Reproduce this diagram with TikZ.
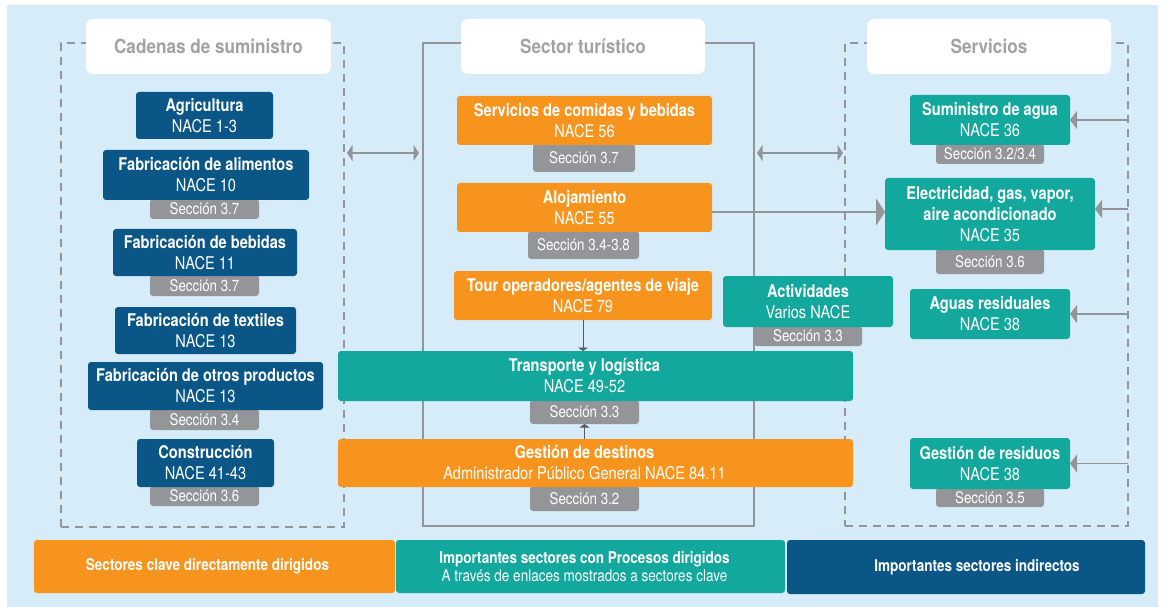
\documentclass[tikz,border=0pt]{standalone}
\usepackage{fontspec}
\setmainfont{TeX Gyre Heros}[FakeStretch=0.835]
\newfontfamily\ttlfamily{TeX Gyre Heros}[FakeStretch=0.88]
\usetikzlibrary{arrows.meta}
\definecolor{bgblue}{RGB}{214,236,249}
\definecolor{dblue}{RGB}{9,86,135}
\definecolor{korange}{RGB}{247,148,30}
\definecolor{kteal}{RGB}{19,168,158}
\definecolor{secgray}{RGB}{147,149,152}
\definecolor{lngray}{RGB}{147,149,152}
\definecolor{ttlgray}{RGB}{160,162,165}
\definecolor{arrdark}{RGB}{88,89,91}
\newcommand\myNodeFont{\fontsize{17.5}{21}\selectfont}
\newcommand\mySecFont{\fontsize{16}{18}\selectfont}
\newcommand\myLegFont{\fontsize{16.2}{18}\selectfont}
\newcommand\myTtlFont{\ttlfamily\bfseries\fontsize{19.5}{22}\selectfont}
\newcommand\placebox[7]{\node[#1, minimum width=#5pt, minimum height=#6pt] (#2) at (#3,#4) {#7};}
\tikzset{
 basebox/.style={inner sep=0pt, outer sep=0pt, align=center, text=white, anchor=north west, rounded corners=3pt},
 dbox/.style={basebox, fill=dblue, font=\myNodeFont},
 obox/.style={basebox, fill=korange, font=\myNodeFont},
 tbox/.style={basebox, fill=kteal, font=\myNodeFont},
 secbox/.style={basebox, fill=secgray, font=\mySecFont},
 legbox/.style={basebox, font=\myLegFont},
 ttlbox/.style={basebox, fill=white, rounded corners=7pt, text=ttlgray, font=\myTtlFont},
 dashcont/.style={basebox, draw=lngray, line width=1.6pt, dash pattern=on 8pt off 6pt, rounded corners=0pt},
 solidcont/.style={basebox, draw=lngray, line width=1.8pt, rounded corners=0pt},
 lbl/.style={align=center, text=white, inner sep=0pt},
 dblarr/.style={lngray, line width=1.6pt, {Triangle[length=5.5pt,width=16pt]}-{Triangle[length=5.5pt,width=16pt]}},
 bigarr/.style={lngray, line width=1.8pt, -{Triangle[length=9pt,width=27pt]}},
 inarr/.style={lngray, line width=1.6pt, -{Triangle[length=7pt,width=18pt]}},
 smallarr/.style={arrdark, line width=0.9pt, -{Triangle[length=3.5pt,width=10pt]}},
}
\begin{document}
\begin{tikzpicture}[x=1pt,y=-1pt]
\useasboundingbox (0,0) rectangle (1163,607);
\fill[white] (0,0) rectangle (1163,607);
\fill[bgblue] (7,5) rectangle (1158,607);

% containers
\placebox{dashcont}{supply}{61}{43}{283}{484}{}
\placebox{solidcont}{tourism}{423}{43}{331}{483}{}
\placebox{dashcont}{services}{845}{43}{283}{483}{}
\coordinate (row) at (0,153);

% connectors
\draw[dblarr, shorten <=3pt, shorten >=4pt] (supply.east |- row) -- (tourism.west |- row);
\draw[dblarr, shorten <=3pt, shorten >=2pt] (tourism.east |- row) -- (services.west |- row);

% supply chain column
\placebox{secbox}{secfalim}{150}{199}{109}{20}{Sección 3.7}
\placebox{secbox}{secfbeb}{150}{275}{109}{21}{Sección 3.7}
\placebox{secbox}{secfotros}{150}{409}{109}{21}{Sección 3.4}
\placebox{secbox}{secconstr}{150}{486}{109}{20}{Sección 3.6}
\placebox{dbox}{agri}{136}{92}{137}{47}{\textbf{Agricultura}\\NACE 1-3}
\placebox{dbox}{falim}{103}{150}{206}{50}{\textbf{Fabricación de alimentos}\\NACE 10}
\placebox{dbox}{fbeb}{113}{229}{184}{47}{\textbf{Fabricación de bebidas}\\NACE 11}
\placebox{dbox}{ftext}{115}{307}{181}{47}{\textbf{Fabricación de textiles}\\NACE 13}
\placebox{dbox}{fotros}{88}{362}{235}{48}{\textbf{Fabricación de otros productos}\\NACE 13}
\placebox{dbox}{constr}{137}{439}{137}{48}{\textbf{Construcción}\\NACE 41-43}

% tourism column
\placebox{secbox}{secserv}{533}{144}{102}{28}{Sección 3.7}
\placebox{secbox}{secaloj}{528}{231}{111}{28}{Sección 3.4-3.8}
\placebox{secbox}{sectransp}{530}{400}{109}{24}{Sección 3.3}
\placebox{secbox}{secgest}{530}{486}{109}{25}{Sección 3.2}
\placebox{secbox}{secactiv}{754}{326}{108}{20}{Sección 3.3}
\placebox{obox}{serv}{457}{96}{255}{49}{\textbf{Servicios de comidas y bebidas}\\NACE 56}
\placebox{obox}{aloj}{457}{183}{255}{49}{\textbf{Alojamiento}\\NACE 55}
\placebox{obox}{tour}{454}{271}{258}{49}{\textbf{Tour operadores/agentes de viaje}\\NACE 79}
\node[tbox, minimum width=515pt, minimum height=50pt,
  label={[lbl, font=\myNodeFont, xshift=-11pt]center:{\textbf{Transporte y logística}\\NACE 49-52}}] (transp) at (338,351) {};
\node[obox, minimum width=515pt, minimum height=48pt,
  label={[lbl, font=\myNodeFont, xshift=-11pt]center:{\textbf{Gestión de destinos}\\Administrador Público General NACE 84.11}}] (gest) at (338,439) {};
\placebox{tbox}{activ}{723}{276}{170}{51}{\textbf{Actividades}\\Varios NACE}

% services column
\placebox{secbox}{secagua}{936}{144}{108}{20}{Sección 3.2/3.4}
\placebox{secbox}{secelec}{936}{249}{108}{25}{Sección 3.6}
\placebox{secbox}{secresid}{936}{488}{108}{19}{Sección 3.5}
\placebox{tbox}{agua}{910}{95}{160}{50}{\textbf{Suministro de agua}\\NACE 36}
\placebox{tbox}{elec}{885}{178}{210}{72}{\textbf{Electricidad, gas, vapor,}\\\textbf{aire acondicionado}\\NACE 35}
\placebox{tbox}{aguasres}{910}{289}{160}{50}{\textbf{Aguas residuales}\\NACE 38}
\placebox{tbox}{resid}{910}{438}{160}{51}{\textbf{Gestión de residuos}\\NACE 38}

% arrows between nodes
\coordinate (alojout) at ([yshift=-4.5pt]aloj.east);
\coordinate (elecin) at ([yshift=5pt]elec.east);
\draw[bigarr] (alojout) -- (alojout -| elec.west);
\draw[inarr] (services.east |- agua.east) -- (agua.east);
\draw[inarr] (services.east |- elecin) -- (elecin);
\draw[inarr] (services.east |- aguasres.east) -- (aguasres.east);
\draw[inarr] (services.east |- resid.east) -- (resid.east);
\draw[smallarr] (tour.south) -- (tour.south |- transp.north);
\draw[smallarr] (sectransp.south |- gest.north) -- (sectransp.south);

% titles
\placebox{ttlbox}{ttlsupply}{86}{19}{245}{55}{Cadenas de suministro}
\placebox{ttlbox}{ttltourism}{461}{19}{244}{55}{Sector turístico}
\placebox{ttlbox}{ttlservices}{867}{19}{244}{55}{Servicios}

% legend
\node[legbox, fill=korange, minimum width=361pt, minimum height=53pt,
  label={[lbl, font=\myLegFont, xshift=-7pt]center:{\textbf{Sectores clave directamente dirigidos}}}] (legkey) at (34,540) {};
\node[legbox, fill=kteal, minimum width=389pt, minimum height=53pt,
  label={[lbl, font=\myLegFont, xshift=-6pt]center:{\textbf{Importantes sectores con Procesos dirigidos}\\A través de enlaces mostrados a sectores clave}}] (legproc) at (396,540) {};
\node[legbox, fill=dblue, minimum width=358pt, minimum height=54pt,
  label={[lbl, font=\myLegFont, xshift=11pt]center:{\textbf{Importantes sectores indirectos}}}] (legind) at (787,540) {};
\end{tikzpicture}
\end{document}
